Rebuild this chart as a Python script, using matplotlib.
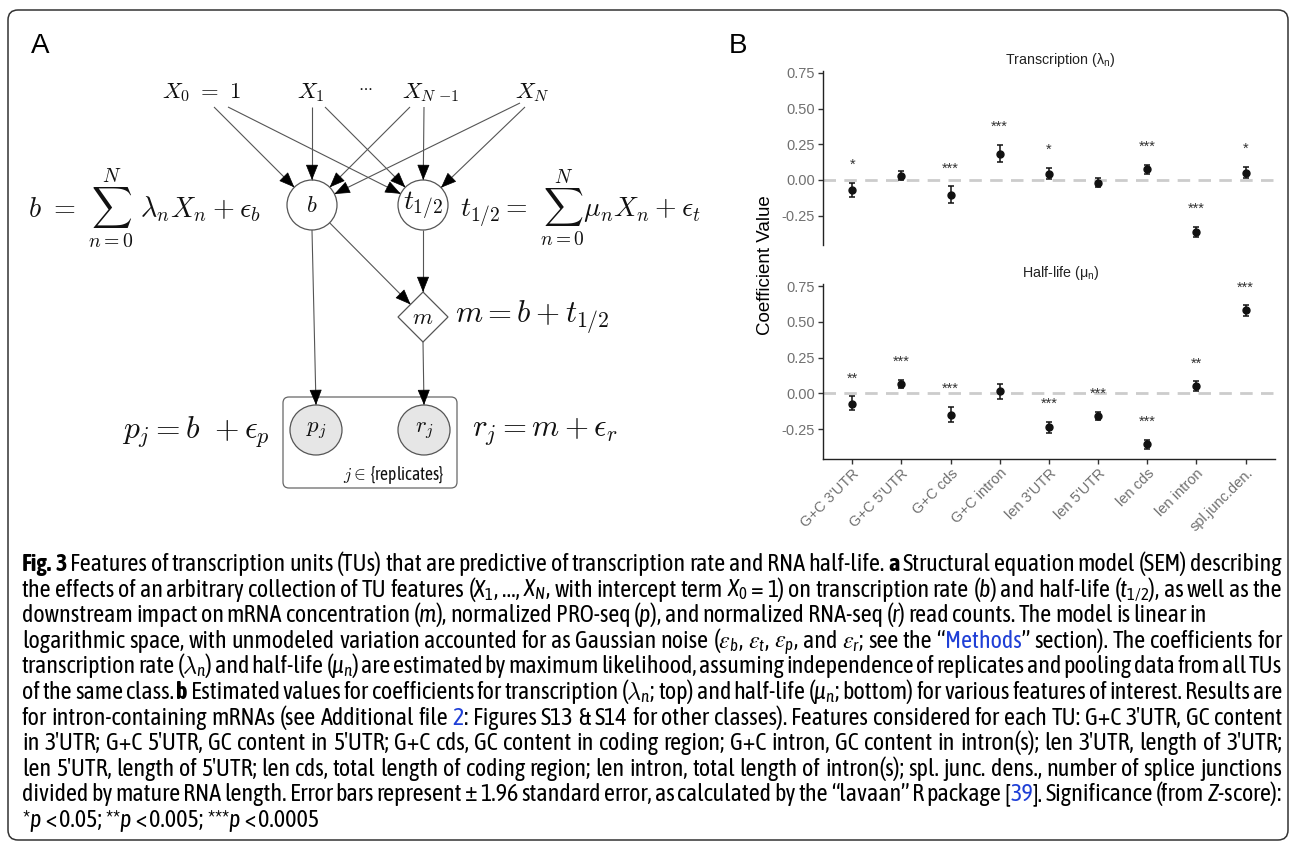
import numpy as np
import matplotlib
matplotlib.use("Agg")
import matplotlib.pyplot as plt
from matplotlib import font_manager
from matplotlib.patches import Ellipse, Polygon, FancyBboxPatch

# ---- panel B data ----
features = ["G+C 3'UTR", "G+C 5'UTR", "G+C cds", "G+C intron", "len 3'UTR",
            "len 5'UTR", "len cds", "len intron", "spl.junc.den."]

trans_est = [-0.070, 0.030, -0.105, 0.185, 0.045, -0.020, 0.077, -0.362, 0.052]
trans_lo = [-0.121, 0.000, -0.163, 0.126, 0.007, -0.047, 0.042, -0.397, 0.012]
trans_hi = [-0.019, 0.065, -0.044, 0.245, 0.086, 0.016, 0.107, -0.327, 0.093]
trans_sig = ["*", "", "***", "***", "*", "", "***", "***", "*"]

half_est = [-0.072, 0.066, -0.149, 0.015, -0.238, -0.159, -0.355, 0.049, 0.580]
half_lo = [-0.117, 0.040, -0.203, -0.042, -0.276, -0.189, -0.388, 0.014, 0.543]
half_hi = [-0.021, 0.096, -0.096, 0.066, -0.200, -0.131, -0.325, 0.084, 0.615]
half_sig = ["**", "***", "***", "", "***", "***", "***", "**", "***"]

W, H = 1290, 843

# fonts: a narrow face for the caption if there is one
entries = font_manager.fontManager.ttflist
names = {f.name for f in entries}


def has_bold(name):
    heavy = ("600", "700", "800", "900", "bold", "semibold", "demibold", "heavy", "black")
    return any(f.name == name and str(f.weight) in heavy for f in entries)


narrow = sorted({f.name for f in entries if "Narrow" in f.name or "Condensed" in f.name},
                key=lambda n: (not has_bold(n), n))
condensed = sorted({f.name for f in entries if f.stretch == "condensed"})
if narrow:
    cap_font, cap_stretch = narrow[0], "normal"
elif condensed:
    cap_font, cap_stretch = condensed[0], "condensed"
else:
    cap_font, cap_stretch = "Open Sans", "normal"
sans = "Liberation Sans" if "Liberation Sans" in names else "DejaVu Sans"
bold_font = cap_font if has_bold(cap_font) else sans


def pattern(style="normal"):
    p = f"{cap_font}:style={style}"
    if cap_stretch != "normal":
        p += f":stretch={cap_stretch}"
    return p


plt.rcParams["axes.unicode_minus"] = False
plt.rcParams["mathtext.fontset"] = "custom"
plt.rcParams["mathtext.rm"] = pattern()
plt.rcParams["mathtext.it"] = pattern(style="italic")

fig = plt.figure(figsize=(W / 100, H / 100), dpi=100)
ax0 = fig.add_axes([0, 0, 1, 1])
ax0.set_xlim(0, W)
ax0.set_ylim(H, 0)
ax0.axis("off")
renderer = fig.canvas.get_renderer()


def text_width(s, **kw):
    t = ax0.text(0, 0, s, **kw)
    w = t.get_window_extent(renderer).width
    t.remove()
    return w


def fit_size(s, width, **kw):
    return 10 * width / text_width(s, fontsize=10, **kw)


# outer frame and panel letters
ax0.add_patch(FancyBboxPatch((8, 10), W - 10, H - 13, boxstyle="round,pad=0,rounding_size=10",
                             fc="none", ec="#333333", lw=1.1))
ax0.text(40, 46, "A", fontsize=20, family=sans, ha="center", va="center")
ax0.text(738, 46, "B", fontsize=20, family=sans, ha="center", va="center")

# ---- panel A: the SEM diagram ----
cm = dict(math_fontfamily="cm", color="#111111")
line_c = "#555555"

nodes = {"b": (312, 205), "t": (423, 205), "m": (423, 317), "p": (316, 430), "r": (424, 430)}
R = 25

top_labels = [(r"$X_0\ =\ 1$", 162, 76), (r"$X_1$", 297, 30),
              (r"$X_{N\ {-1}}$", 402, 61), (r"$X_N$", 515, 35)]
fs_x = np.mean([fit_size(s, w, **cm) for s, x, w in top_labels])
for s, x, w in top_labels:
    ax0.text(x, 92, s, fontsize=fs_x, ha="left", va="center", **cm)
ax0.text(365, 86, r"$\cdots$", fontsize=11, ha="center", va="center", **cm)

formulas = [(r"$b\ =\ \sum_{n=0}^{N}\ \lambda_n X_n + \epsilon_b$", 28, 208, 235),
            (r"$t_{1/2} =\ \sum_{n=0}^{N} \mu_n X_n + \epsilon_t$", 460, 208, 243),
            (r"$m = b + t_{1/2}$", 455, 317, 157),
            (r"$p_j = b\ + \epsilon_p$", 122, 432, 150),
            (r"$r_j = m + \epsilon_r$", 472, 432, 148)]
for s, x, y, w in formulas:
    ax0.text(x, y, s, fontsize=fit_size(s, w, **cm), ha="left", va="center", **cm)


# edges: straight lines in grey, black heads
def edge(start, end):
    (x1, y1), (x2, y2) = start, end
    ax0.plot([x1, x2], [y1, y2], color=line_c, lw=0.8, solid_capstyle="butt")
    d = np.array([x2 - x1, y2 - y1], float)
    d /= np.hypot(*d)
    ax0.annotate("", xy=(x2, y2), xytext=(x2 - d[0] * 13, y2 - d[1] * 13),
                 arrowprops=dict(arrowstyle="-|>,head_length=1.0,head_width=0.4",
                                 color="black", lw=0.5, shrinkA=0, shrinkB=0))


def on_circle(c, frm, r=R):
    d = np.array(c, float) - np.array(frm, float)
    return tuple(np.array(c) - r * d / np.hypot(*d))


starts_b = [(214, 107), (312, 107), (410, 107), (520, 103)]
starts_t = [(228, 107), (325, 107), (424, 107), (525, 107)]
for s in starts_b:
    edge(s, on_circle(nodes["b"], s))
for s in starts_t:
    edge(s, on_circle(nodes["t"], s))

bx, by = nodes["b"]
tx, ty = nodes["t"]
mx, my = nodes["m"]
d = np.array([mx - bx, my - by], float)
d /= np.hypot(*d)
edge((bx + R * d[0], by + R * d[1]), (mx - R * d[0] / d.sum(), my - R * d[1] / d.sum()))
edge((tx, ty + R), (mx, my - R))
edge((mx, my + R), (nodes["r"][0], nodes["r"][1] - R))
edge((bx, by + R), (nodes["p"][0], nodes["p"][1] - R))

for k in ["b", "t"]:
    ax0.add_patch(Ellipse(nodes[k], 50, 50, fc="white", ec=line_c, lw=0.9))
ax0.add_patch(Polygon([(mx - R, my), (mx, my - R), (mx + R, my), (mx, my + R)],
                      closed=True, fc="white", ec=line_c, lw=0.9))
ax0.add_patch(FancyBboxPatch((283, 397), 174, 91, boxstyle="round,pad=0,rounding_size=6",
                             fc="none", ec="#666666", lw=0.9))
for k in ["p", "r"]:
    ax0.add_patch(Ellipse(nodes[k], 52, 50, fc="#e6e6e6", ec=line_c, lw=0.9, zorder=3))

ax0.text(bx, by, r"$b$", fontsize=fs_x, ha="center", va="center", **cm)
ax0.text(tx, ty, r"$t_{1/2}$", fontsize=fit_size(r"$t_{1/2}$", 42, **cm), ha="center", va="center", **cm)
ax0.text(mx, my, r"$m$", fontsize=fs_x, ha="center", va="center", **cm)
ax0.text(nodes["p"][0], nodes["p"][1], r"$p_j$", fontsize=fs_x, ha="center", va="center", zorder=4, **cm)
ax0.text(nodes["r"][0], nodes["r"][1], r"$r_j$", fontsize=fs_x, ha="center", va="center", zorder=4, **cm)
rep = r"$j \in$ {replicates}"
rep_kw = dict(family=cap_font, stretch=cap_stretch, **cm)
ax0.text(445, 475, rep, fontsize=fit_size(rep, 102, **rep_kw), ha="right", va="center", **rep_kw)


# ---- panel B: coefficient plots ----
def px_axes(left, top, right, bottom):
    return fig.add_axes([left / W, 1 - bottom / H, (right - left) / W, (bottom - top) / H])


def coef_panel(ax, est, lo, hi, sig, title, show_x):
    x = np.arange(1, len(features) + 1)
    est, lo, hi = np.array(est), np.array(lo), np.array(hi)
    ax.set_facecolor("none")
    ax.axhline(0, color="#cccccc", lw=2, ls=(0, (4.5, 3)), zorder=0)
    ax.errorbar(x, est, yerr=[est - lo, hi - est], fmt="o", color="#111111", ms=5,
                capsize=2.5, elinewidth=1.1, capthick=1.1)
    for xi, h, s in zip(x, hi, sig):
        if s:
            ax.text(xi, h + 0.125, s, ha="center", va="center", fontsize=10.5,
                    color="#333333", family=sans)
    ax.set_xlim(0.4, 9.6)
    ax.set_ylim(-0.455, 0.765)
    ax.set_yticks([-0.25, 0, 0.25, 0.5, 0.75])
    ax.set_yticklabels(["-0.25", "0.00", "0.25", "0.50", "0.75"], family=sans)
    for side in ["top", "right"]:
        ax.spines[side].set_visible(False)
    for side in ["left", "bottom"]:
        ax.spines[side].set_linewidth(1.0)
        ax.spines[side].set_color("#222222")
    ax.tick_params(axis="both", length=3.5, width=1, color="#333333", labelsize=10.5,
                   labelcolor="#707070", pad=2)
    if show_x:
        ax.set_xticks(x)
        ax.set_xticklabels(features, rotation=45, ha="right", va="top",
                           rotation_mode="anchor", family=sans)
    else:
        ax.spines["bottom"].set_visible(False)
        ax.tick_params(axis="x", bottom=False, labelbottom=False)
    ax.set_title(title, fontsize=10.3, color="#222222", family=sans, pad=5, x=0.525)


ax1 = px_axes(822.7, 70.7, 1275, 245)
coef_panel(ax1, trans_est, trans_lo, trans_hi, trans_sig, r"Transcription (λ${}_\mathregular{n}$)", False)
ax2 = px_axes(822.7, 284, 1275, 458.5)
coef_panel(ax2, half_est, half_lo, half_hi, half_sig, r"Half-life (μ${}_\mathregular{n}$)", True)
ax0.text(766, 265, "Coefficient Value", rotation=90, fontsize=13.5, family=sans,
         ha="center", va="center")

# ---- caption ----
blue = "#1f3fd6"
N, B = "normal", "bold"
caption = [
    [("Fig. 3", "k", B), (" Features of transcription units (TUs) that are predictive of transcription "
                          "rate and RNA half-life. ", "k", N), ("a", "k", B),
     (" Structural equation model (SEM) describing", "k", N)],
    [(r"the effects of an arbitrary collection of TU features ($X_1$, …, $X_N$, with intercept term "
      r"$X_0$ = 1) on transcription rate ($b$) and half-life ($t_{1/2}$), as well as the", "k", N)],
    [(r"downstream impact on mRNA concentration ($m$), normalized PRO-seq ($p$), and normalized "
      r"RNA-seq ($r$) read counts. The model is linear in", "k", N)],
    [(r"logarithmic space, with unmodeled variation accounted for as Gaussian noise ($ε_b$, $ε_t$, "
      r"$ε_p$, and $ε_r$; see the “", "k", N), ("Methods", blue, N),
     ("” section). The coefficients for", "k", N)],
    [(r"transcription rate ($\lambda_n$) and half-life ($\mu_n$) are estimated by maximum likelihood, "
      r"assuming independence of replicates and pooling data from all TUs", "k", N)],
    [("of the same class. ", "k", N), ("b", "k", B),
     (r" Estimated values for coefficients for transcription ($\lambda_n$; top) and half-life "
      r"($\mu_n$; bottom) for various features of interest. Results are", "k", N)],
    [("for intron-containing mRNAs (see Additional file ", "k", N), ("2", blue, N),
     (": Figures S13 & S14 for other classes). Features considered for each TU: G+C 3′UTR, GC content",
      "k", N)],
    [("in 3′UTR; G+C 5′UTR, GC content in 5′UTR; G+C cds, GC content in coding region; G+C intron, "
      "GC content in intron(s); len 3′UTR, length of 3′UTR;", "k", N)],
    [("len 5′UTR, length of 5′UTR; len cds, total length of coding region; len intron, total length "
      "of intron(s); spl. junc. dens., number of splice junctions", "k", N)],
    [("divided by mature RNA length. Error bars represent ± 1.96 standard error, as calculated by the "
      "“lavaan” R package [", "k", N), ("39", blue, N), (r"]. Significance (from $Z$-score):", "k", N)],
    [(r"*$p$ < 0.05; **$p$ < 0.005; ***$p$ < 0.0005", "k", N)],
]
ragged = {2, 10}  # lines that are not justified


def line_words(segs):
    words = []
    glue = False
    for s, c, wt in segs:
        for j, p in enumerate(s.split(" ")):
            if j == 0 and glue and words:
                if p:
                    words[-1].append((p, c, wt))
            elif p:
                words.append([(p, c, wt)])
        glue = not s.endswith(" ")
    return words


cap_x0, cap_x1, cap_y0, cap_dy = 22, 1282, 571, 25.6


def cap_kw(wt):
    if wt == B:
        return dict(family=[bold_font, "DejaVu Sans"], fontweight="bold", stretch=cap_stretch)
    return dict(family=[cap_font, "DejaVu Sans"], stretch=cap_stretch)


first = "".join(s for s, c, wt in caption[0])
cap_fs = fit_size(first, cap_x1 - cap_x0, **cap_kw(N))
tw = lambda s, wt=N: text_width(s, fontsize=cap_fs, **cap_kw(wt))
space = tw("n n") - tw("nn")

for i, segs in enumerate(caption):
    y = cap_y0 + i * cap_dy
    words = line_words(segs)
    widths = [tw("".join(p for p, c, wt in w), w[0][2]) for w in words]
    gap = space if i in ragged else (cap_x1 - cap_x0 - sum(widths)) / (len(words) - 1)
    x = cap_x0
    for w, ww in zip(words, widths):
        done = ""
        for p, c, wt in w:
            dx = tw(done + p) - tw(p) if done else 0
            ax0.text(x + dx, y, p, fontsize=cap_fs, color=c, ha="left", va="baseline", **cap_kw(wt))
            done += p
        x += ww + gap

fig.savefig("out.png", dpi=100)
